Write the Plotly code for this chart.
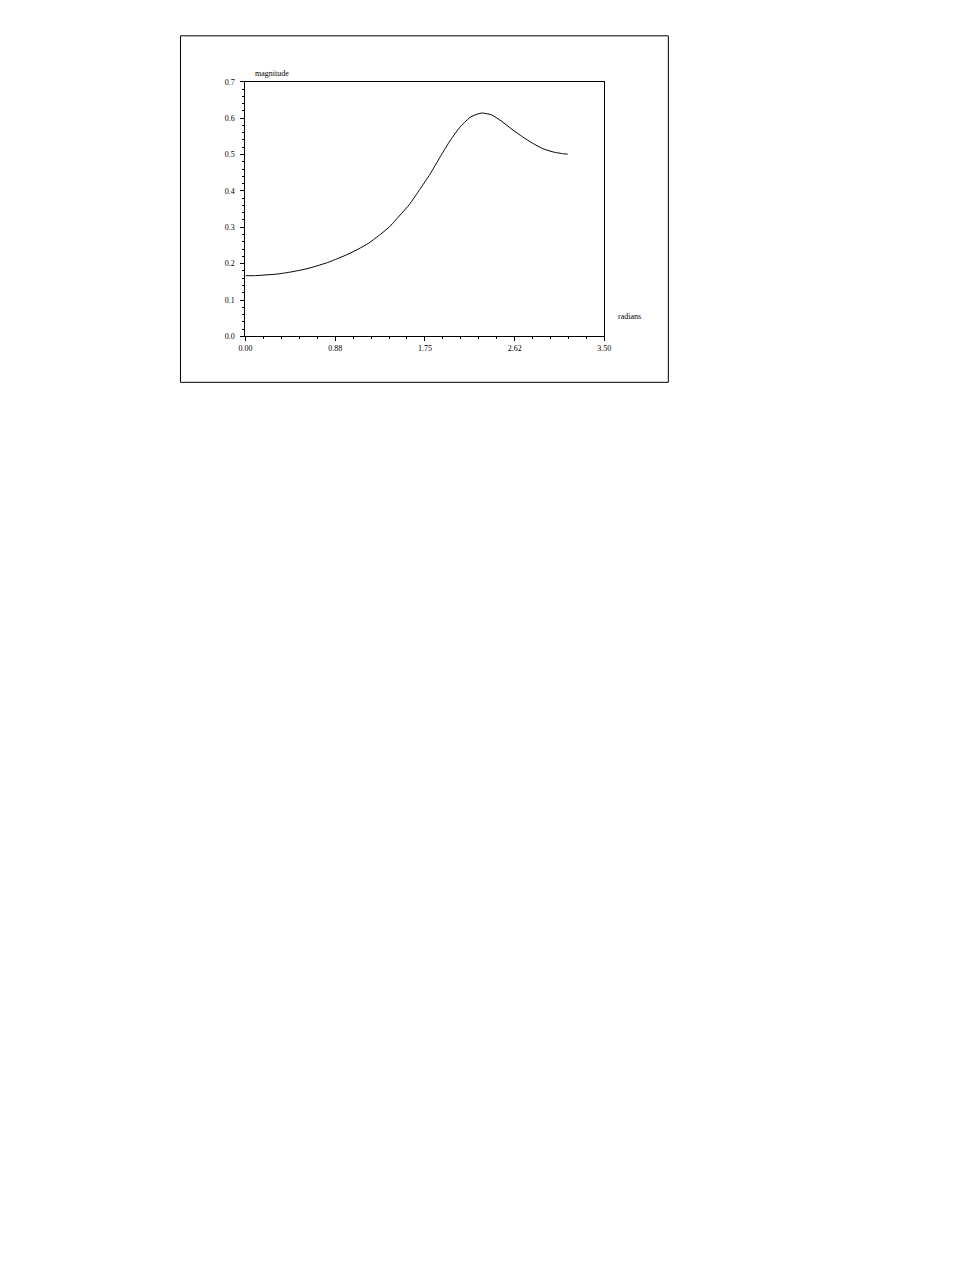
import plotly.graph_objects as go

# magnitude response
radians = [0.0, 0.1, 0.2, 0.3, 0.4, 0.5, 0.6, 0.7, 0.8, 0.9, 1.0, 1.1, 1.2,
           1.3, 1.4, 1.5, 1.6, 1.7, 1.8, 1.9, 2.0, 2.1, 2.2, 2.3, 2.4, 2.5,
           2.6, 2.7, 2.8, 2.9, 3.0, 3.1, 3.1416]
magnitude = [0.167, 0.167, 0.169, 0.171, 0.175, 0.180, 0.186, 0.194, 0.203,
             0.214, 0.226, 0.240, 0.256, 0.277, 0.300, 0.331, 0.363, 0.404,
             0.446, 0.494, 0.540, 0.578, 0.604, 0.614, 0.609, 0.591, 0.569,
             0.549, 0.531, 0.516, 0.507, 0.502, 0.501]

x_ticks = [0.0, 0.875, 1.75, 2.625, 3.5]
x_labels = ["0.00", "0.88", "1.75", "2.62", "3.50"]
y_ticks = [0.0, 0.1, 0.2, 0.3, 0.4, 0.5, 0.6, 0.7]

# page body keeps its 8px margin, so draw a slightly smaller figure
OFF = 8
W, H = 978 - 2 * OFF, 1265 - 2 * OFF


# screen pixel (as measured on the reference) -> paper fraction,
# with a small correction measured from an earlier render
def px(x):
    x = (x - 6.6) / 0.9857
    return (x - OFF) / W


def py(y):
    y = (y - 3.2) / 0.9942
    return 1 - (y - OFF) / H


font = dict(family="Liberation Serif", size=8, color="black")

fig = go.Figure()
fig.add_trace(go.Scatter(
    x=radians, y=magnitude, mode="lines",
    line=dict(color="black", width=1, shape="spline", smoothing=0.5),
    hoverinfo="skip", showlegend=False,
))

axis_common = dict(
    showline=True, linecolor="black", linewidth=1, mirror=True,
    showgrid=False, zeroline=False, ticks="outside", ticklen=4,
    tickwidth=1, tickcolor="black", tickfont=font,
)

fig.update_xaxes(
    range=[0, 3.5], tickvals=x_ticks, ticktext=x_labels,
    domain=[px(245), px(604)],
    minor=dict(ticks="outside", ticklen=2, dtick=0.175, tick0=0,
               tickcolor="black", showgrid=False),
    **axis_common,
)
fig.update_yaxes(
    range=[0, 0.7], tickvals=y_ticks, tickformat=".1f",
    domain=[py(336), py(81)], ticklabelstandoff=4,
    minor=dict(ticks="outside", ticklen=2, dtick=0.02, tick0=0,
               tickcolor="black", showgrid=False),
    **axis_common,
)

# outer frame
fig.add_shape(type="rect", xref="paper", yref="paper",
              x0=px(180), x1=px(668), y0=py(382), y1=py(35),
              line=dict(color="black", width=1))

fig.add_annotation(text="magnitude", xref="paper", yref="paper",
                   x=px(253), y=py(73), xanchor="left", yanchor="middle",
                   showarrow=False, font=font)
fig.add_annotation(text="radians", xref="paper", yref="paper",
                   x=px(616), y=py(316), xanchor="left", yanchor="middle",
                   showarrow=False, font=font)

fig.update_layout(
    width=W, height=H, margin=dict(l=0, r=0, t=0, b=0),
    paper_bgcolor="white", plot_bgcolor="white", font=font,
)

fig.write_html("out.html")
